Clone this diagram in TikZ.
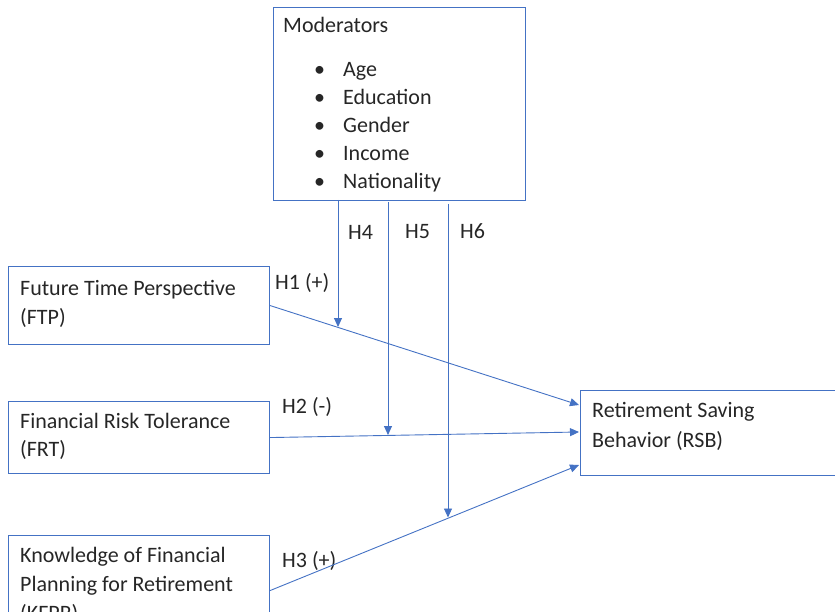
\documentclass[tikz,border=0pt]{standalone}
\usepackage{fontspec}
\setmainfont{Carlito}
\usetikzlibrary{arrows.meta}
\definecolor{obl}{HTML}{4472C4}
\begin{document}
\begin{tikzpicture}[x=1pt,y=-1pt,
  box/.style={draw=obl, line width=1.1pt, rectangle, inner sep=0pt, anchor=north west},
  txt/.style={anchor=base west, inner sep=0pt, font=\fontsize{22}{30}\selectfont, text=black!85},
  conn/.style={draw=obl, line width=0.9pt, -{Triangle[length=9pt,width=8pt]}}]
\useasboundingbox (0,0) rectangle (835,612);
% boxes
\node[box, minimum width=252, minimum height=193] (mod) at (273,7) {};
\node[box, minimum width=261, minimum height=78] (ftp) at (8,266) {};
\node[box, minimum width=261, minimum height=72] (frt) at (8,401) {};
\node[box, minimum width=261, minimum height=110] (kfpr) at (8,535) {};
\node[box, minimum width=280, minimum height=85] (rsb) at (580,390) {};
% texts
\node[txt] (modt) at (283,33) {Moderators};
\foreach \n/\t/\y in {a/Age/77, b/Education/104.5, c/Gender/133, d/Income/161, e/Nationality/189}{
  \node[txt] (bul\n) at (314,\y) {•};
  \node[txt] (it\n) at (343,\y) {\t};
}
\node[txt] (ftp1) at (20,295) {Future Time Perspective};
\node[txt] (ftp2) at (20,324) {(FTP)};
\node[txt] (frt1) at (20,428) {Financial Risk Tolerance};
\node[txt] (frt2) at (20,456) {(FRT)};
\node[txt] (kf1) at (20,562) {Knowledge of Financial};
\node[txt] (kf2) at (20,591) {Planning for Retirement};
\node[txt] (kf3) at (20,620) {(KFPR)};
\node[txt] (rsb1) at (592,417) {Retirement Saving};
\node[txt] (rsb2) at (592,447) {Behavior (RSB)};
% hypothesis labels
\node[txt] (h1) at (275,290) {H1 (+)};
\node[txt] (h2) at (282,413) {H2 (-)};
\node[txt] (h3) at (282,567) {H3 (+)};
\node[txt] (h4) at (348,240) {H4};
\node[txt] (h5) at (405,239) {H5};
\node[txt] (h6) at (460,239) {H6};
% coordinates
\coordinate (r1) at (579,405);
\coordinate (r2) at (579,432);
\coordinate (r3) at (579,465);
\coordinate (m4) at (338,200);
\coordinate (m5) at (388,202);
\coordinate (m6) at (448,204);
\coordinate (e4) at (338,327);
\coordinate (e5) at (388,435);
\coordinate (e6) at (448,517.5);
% connectors
\draw[conn] (ftp.east) -- (r1);
\draw[conn] (frt.east) -- (r2);
\draw[conn] (kfpr.east) -- (r3);
\draw[conn] (m4) -- (e4);
\draw[conn] (m5) -- (e5);
\draw[conn] (m6) -- (e6);
\end{tikzpicture}
\end{document}
